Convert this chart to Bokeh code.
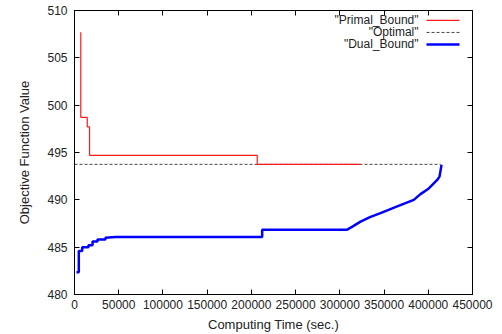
from bokeh.plotting import figure
from bokeh.models import LinearAxis, Range1d, FixedTicker, Label, NumeralTickFormatter, CustomJSTickFormatter
from bokeh.embed import file_html
from bokeh.resources import INLINE

# Data
primal_time = [7100, 7100, 14400, 14400, 17000, 17000, 206600, 206600, 323400]
primal_value = [507.7, 498.7, 498.7, 497.7, 497.7, 494.7, 494.7, 493.75, 493.75]

optimal_time = [0, 414000]
optimal_value = [493.75, 493.75]

dual_time = [2260, 4860, 4860, 8700, 8700, 15800, 15800, 20400, 20400, 26000, 26000,
             35000, 35000, 46400, 212200, 212200, 308300, 314700, 323400, 334700,
             346000, 364900, 383600, 391200, 400600, 410100, 412700, 415000]
dual_value = [482.35, 482.35, 484.6, 484.6, 485.0, 485.0, 485.2, 485.2, 485.6, 485.6, 485.8,
              485.8, 486.0, 486.07, 486.07, 486.85, 486.85, 487.2, 487.7, 488.2,
              488.6, 489.3, 490.0, 490.6, 491.2, 492.1, 492.45, 493.7]

x_ticks = [0, 50000, 100000, 150000, 200000, 250000, 300000, 350000, 400000, 450000]
y_ticks = [480, 485, 490, 495, 500, 505, 510]
legend_labels = ['"Primal_Bound"', '"Optimal"', '"Dual_Bound"']

FONT = "Liberation Sans"

p = figure(width=502, height=334, output_backend="svg", toolbar_location=None,
           x_range=Range1d(0, 450000), y_range=Range1d(480, 510),
           min_border_left=74, min_border_right=30, min_border_top=10, min_border_bottom=39)
p.xgrid.visible = False
p.ygrid.visible = False
p.outline_line_color = "black"
p.outline_line_width = 1
p.background_fill_color = "white"
p.border_fill_color = "white"

# pixel-like range for placing the legend (frame pixels)
p.extra_x_ranges = {"px": Range1d(0, 398)}
p.extra_y_ranges = {"py": Range1d(0, 285)}

for ax in (p.xaxis[0], p.yaxis[0]):
    ax.major_tick_in = 5
    ax.major_tick_out = 0
    ax.minor_tick_in = 0
    ax.minor_tick_out = 0
    ax.axis_line_color = "black"
    ax.major_tick_line_color = "black"
    ax.major_label_text_font = FONT
    ax.major_label_text_font_size = "12px"
    ax.major_label_text_color = "#222222"
    ax.axis_label_text_font = FONT
    ax.axis_label_text_font_size = "13px"
    ax.axis_label_text_font_style = "normal"
    ax.axis_label_text_color = "#222222"

p.xaxis[0].ticker = FixedTicker(ticks=x_ticks)
p.yaxis[0].ticker = FixedTicker(ticks=y_ticks)
p.xaxis[0].formatter = NumeralTickFormatter(format="0")
p.xaxis[0].major_label_standoff = 5
p.yaxis[0].major_label_standoff = 7
p.xaxis[0].axis_label = "Computing Time (sec.)"
p.yaxis[0].axis_label = "Objective Function Value"
p.xaxis[0].axis_label_standoff = 5
p.yaxis[0].axis_label_standoff = 12

# mirror ticks
blank = CustomJSTickFormatter(code="return ''")
top = LinearAxis(ticker=FixedTicker(ticks=x_ticks), major_tick_in=5, major_tick_out=0,
                 minor_tick_in=0, minor_tick_out=0, formatter=blank,
                 major_label_standoff=0, axis_line_color="black")
right = LinearAxis(ticker=FixedTicker(ticks=y_ticks), major_tick_in=5, major_tick_out=0,
                   minor_tick_in=0, minor_tick_out=0, formatter=blank,
                   major_label_standoff=0, axis_line_color="black")
p.add_layout(top, "above")
p.add_layout(right, "right")

p.line(optimal_time, optimal_value, line_color="#444444", line_width=1, line_dash="3 2")
p.line(primal_time, primal_value, line_color="#ff1a1a", line_width=1.2)
p.line(dual_time, dual_value, line_color="#0000ff", line_width=2.5)

# gnuplot-style legend (text right-aligned, sample on the right)
colors = ["#ff1a1a", "#444444", "#0000ff"]
widths = [1.2, 1, 2.5]
dashes = ["solid", "3 2", "solid"]
for i, lab in enumerate(legend_labels):
    ys = 275 - 12 * i
    p.add_layout(Label(x=344, y=ys, x_units="screen", y_units="screen", text=lab,
                       text_align="right", text_baseline="middle", text_font=FONT,
                       text_font_size="12px", text_color="#222222"))
    p.line([352, 385], [ys, ys], x_range_name="px", y_range_name="py",
           line_color=colors[i], line_width=widths[i], line_dash=dashes[i])

open("out.html", "w").write(file_html(p, INLINE))
